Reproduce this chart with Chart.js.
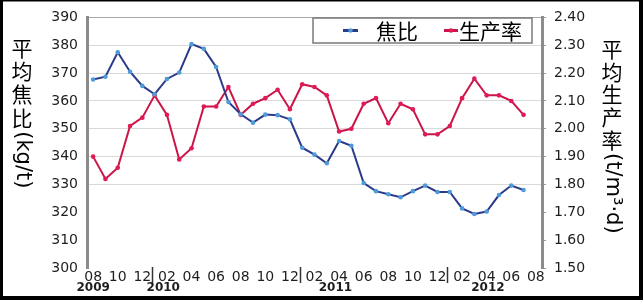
<!DOCTYPE html>
<html><head><meta charset="utf-8">
<script src="https://cdn.jsdelivr.net/npm/chart.js@4/dist/chart.umd.min.js"></script>
<style>html,body{margin:0;padding:0;background:#fff}#wrap{width:643px;height:300px;position:relative}</style>
</head><body><div id="wrap"><canvas id="c" width="643" height="300"></canvas></div>
<script>
// Categories: monthly, 2009-08 .. 2012-08
const monthLabels = ['08','09','10','11','12','01','02','03','04','05','06','07',
  '08','09','10','11','12','01','02','03','04','05','06','07',
  '08','09','10','11','12','01','02','03','04','05','06','07','08'];
// year captions: [text, category position]
const yearMarks = [['2009',0],['2010',5.7],['2011',19.7],['2012',32.1]];
const yearSeparators = [4.8, 16.8, 28.8];
// 焦比 (kg/t)
const cokeRatio = [367.7,368.7,377.5,370.5,365.4,362.4,367.9,370.2,380.4,378.7,372.2,359.6,
  355.2,352.2,355.1,354.9,353.4,343.2,340.7,337.6,345.6,343.9,330.5,327.6,
  326.5,325.4,327.6,329.6,327.3,327.3,321.4,319.4,320.3,326.2,329.6,328.0,null];
// 生产率 (t/m3·d)
const productivity = [1.90,1.82,1.86,2.01,2.04,2.12,2.05,1.89,1.93,2.08,2.08,2.15,
  2.05,2.09,2.11,2.14,2.07,2.16,2.15,2.12,1.99,2.00,2.09,2.11,
  2.02,2.09,2.07,1.98,1.98,2.01,2.11,2.18,2.12,2.12,2.10,2.05,null];
const leftTicks = [300,310,320,330,340,350,360,370,380,390];
const rightTicks = [1.5,1.6,1.7,1.8,1.9,2.0,2.1,2.2,2.3,2.4];

const BLUE_LINE = '#2c3a8a', BLUE_PT = '#4f9ad8';
const RED_LINE = '#cc1448', RED_PT = '#e01a55';
const TXT = '#1e1e1e';
const CJK = '"Noto Sans CJK SC","Noto Sans CJK JP",sans-serif';

function vTitle(ctx, x, y0, cjk, latin, size, lsize, pitch){
  ctx.save();
  ctx.fillStyle = '#000';
  ctx.textAlign = 'center'; ctx.textBaseline = 'middle';
  ctx.font = size + 'px ' + CJK;
  let y = y0;
  for (const ch of cjk){ ctx.fillText(ch, x, y + pitch/2); y += pitch; }
  ctx.translate(x, y + 2); ctx.rotate(Math.PI/2);
  ctx.font = lsize + 'px "DejaVu Sans"';
  ctx.textAlign = 'left';
  ctx.fillText(latin, 0, 0);
  ctx.restore();
}

const decor = {
  id: 'decor',
  afterDraw(chart){
    const ctx = chart.ctx, xs = chart.scales.x, a = chart.chartArea;
    // axis titles
    vTitle(ctx, 22, 36, '平均焦比', '(kg/t)', 21, 21, 23.3);
    vTitle(ctx, 612, 38, '平均生产率', '(t/m³·d)', 21, 21, 22.6);
    // year separators & captions
    ctx.save();
    ctx.strokeStyle = '#333'; ctx.lineWidth = 1.5;
    for (const s of yearSeparators){
      const px = Math.round(xs.getPixelForValue(s)) + 0.5;
      ctx.beginPath(); ctx.moveTo(px, a.bottom - 1); ctx.lineTo(px, a.bottom + 15); ctx.stroke();
    }
    ctx.fillStyle = TXT; ctx.font = 'bold 12px "DejaVu Sans"';
    ctx.textAlign = 'center'; ctx.textBaseline = 'middle';
    for (const [t, p] of yearMarks){ ctx.fillText(t, xs.getPixelForValue(p), 288); }
    // legend
    const lx = 313, ly = 18, lw = 219, lh = 25;
    ctx.fillStyle = '#fff'; ctx.fillRect(lx, ly, lw, lh);
    ctx.strokeStyle = '#7a7a7a'; ctx.lineWidth = 1.5; ctx.strokeRect(lx, ly, lw, lh);
    const cy = ly + lh/2;
    const items = [[343, 358, BLUE_LINE, BLUE_PT, '焦比', 376], [444, 458, RED_LINE, RED_PT, '生产率', 459]];
    for (const [x1, x2, lc, pc, txt, tx] of items){
      ctx.strokeStyle = lc; ctx.lineWidth = 3;
      ctx.beginPath(); ctx.moveTo(x1, cy); ctx.lineTo(x2, cy); ctx.stroke();
      ctx.fillStyle = pc; ctx.beginPath(); ctx.arc((x1+x2)/2, cy, 2.2, 0, Math.PI*2); ctx.fill();
      ctx.fillStyle = '#000'; ctx.font = '21px ' + CJK; ctx.textAlign = 'left';
      ctx.fillText(txt, tx, cy + 1);
    }
    // page frame
    ctx.fillStyle = '#000';
    ctx.fillRect(0, 0, 3, 300);
    ctx.fillRect(0, 0, 643, 1.5);
    ctx.fillRect(639, 0, 4, 300);
    ctx.fillRect(0, 296, 643, 4);
    ctx.restore();
  }
};

new Chart(document.getElementById('c'), {
  type: 'line',
  data: {
    labels: monthLabels,
    datasets: [
      { label: '焦比', data: cokeRatio, yAxisID: 'y', borderColor: BLUE_LINE, borderWidth: 2,
        pointRadius: 2.3, pointBackgroundColor: BLUE_PT, pointBorderWidth: 0, tension: 0, spanGaps: false },
      { label: '生产率', data: productivity, yAxisID: 'y1', borderColor: RED_LINE, borderWidth: 2,
        pointRadius: 2.3, pointBackgroundColor: RED_PT, pointBorderWidth: 0, tension: 0, spanGaps: false }
    ]
  },
  options: {
    responsive: false, animation: false,
    layout: { padding: { left: 40, right: 0, top: 10, bottom: 0 } },
    plugins: { legend: { display: false }, tooltip: { enabled: false } },
    scales: {
      x: {
        type: 'category', offset: true,
        grid: { display: false, drawTicks: false }, border: { display: false },
        ticks: { autoSkip: false, maxRotation: 0, minRotation: 0, padding: 1, color: TXT,
          font: { family: 'DejaVu Sans', size: 14 },
          callback: (v, i) => (i % 2 === 0 ? monthLabels[i] : '') },
        afterFit(s){ s.height = 32; }
      },
      y: {
        position: 'left', min: leftTicks[0], max: leftTicks[leftTicks.length-1],
        afterBuildTicks(s){ s.ticks = leftTicks.map(v => ({ value: v })); },
        ticks: { padding: 9, color: TXT, font: { family: 'DejaVu Sans', size: 14 } },
        grid: { drawTicks: false, lineWidth: 1,
          color: c => (c.tick && c.tick.value >= 330 ? (c.tick.value === 390 ? '#a8a8a8' : '#d9d9d9') : 'rgba(0,0,0,0)') },
        border: { display: true, color: '#8c8c8c', width: 3 },
        afterFit(s){ s.width = 47; }
      },
      y1: {
        position: 'right', min: rightTicks[0], max: rightTicks[rightTicks.length-1],
        afterBuildTicks(s){ s.ticks = rightTicks.map(v => ({ value: v })); },
        ticks: { padding: 8, color: TXT, font: { family: 'DejaVu Sans', size: 14 },
          callback: v => Number(v).toFixed(2) },
        grid: { drawOnChartArea: false, drawTicks: true, tickLength: 4, color: '#9a9a9a' },
        border: { display: true, color: '#8c8c8c', width: 3 },
        afterFit(s){ s.width = 101; }
      }
    }
  },
  plugins: [decor]
});
</script>
</body></html>
